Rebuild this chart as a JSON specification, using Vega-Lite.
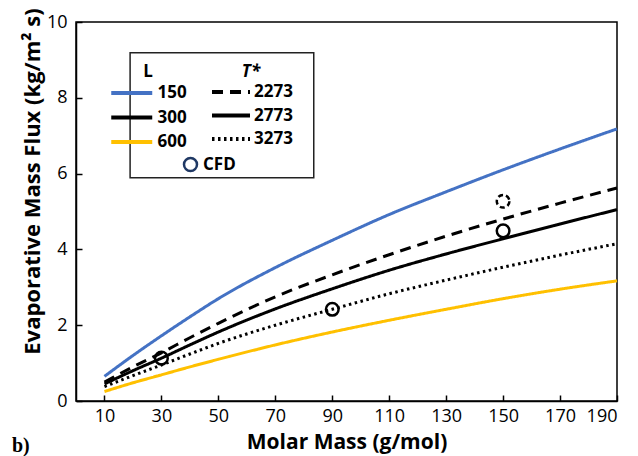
{
  "$schema": "https://vega.github.io/schema/vega-lite/v6.json",
  "width": 541,
  "height": 379,
  "autosize": {"type": "none"},
  "padding": {"left": 76, "top": 22, "right": 21, "bottom": 55},
  "background": "white",
  "config": {
    "font": "Open Sans",
    "view": {"stroke": "#000", "strokeWidth": 1.5},
    "axis": {
      "grid": false, "domainColor": "#000", "domainWidth": 1.5,
      "tickColor": "#000", "tickWidth": 1.5, "tickSize": -6,
      "labelFont": "Open Sans", "labelFontSize": 18, "labelColor": "#000",
      "titleFont": "Open Sans", "titleFontSize": 21, "titleFontWeight": "bold", "titleColor": "#000"
    },
    "legend": {
      "labelFont": "Open Sans", "labelFontSize": 17, "labelFontWeight": "bold", "labelColor": "#000",
      "titleFont": "Open Sans", "titleFontSize": 17, "titleFontWeight": "bold", "titleColor": "#000",
      "padding": 0, "symbolStrokeWidth": 4, "rowPadding": 3.5, "titlePadding": 0, "titleAnchor": "middle"
    }
  },
  "title": {
    "text": "b)", "orient": "bottom", "anchor": "start", "frame": "group",
    "font": "Liberation Serif", "fontSize": 20, "fontWeight": "bold", "color": "#000",
    "dx": -64, "offset": -16
  },
  "datasets": {
    "curves": [
      {"M": 10, "flux": 0.65, "L": "150", "T": "2773"},
      {"M": 20, "flux": 1.2, "L": "150", "T": "2773"},
      {"M": 30, "flux": 1.72, "L": "150", "T": "2773"},
      {"M": 40, "flux": 2.22, "L": "150", "T": "2773"},
      {"M": 50, "flux": 2.7, "L": "150", "T": "2773"},
      {"M": 70, "flux": 3.52, "L": "150", "T": "2773"},
      {"M": 90, "flux": 4.24, "L": "150", "T": "2773"},
      {"M": 110, "flux": 4.92, "L": "150", "T": "2773"},
      {"M": 130, "flux": 5.52, "L": "150", "T": "2773"},
      {"M": 150, "flux": 6.1, "L": "150", "T": "2773"},
      {"M": 170, "flux": 6.65, "L": "150", "T": "2773"},
      {"M": 190, "flux": 7.18, "L": "150", "T": "2773"},
      {"M": 10, "flux": 0.5, "L": "300", "T": "2273"},
      {"M": 20, "flux": 0.9, "L": "300", "T": "2273"},
      {"M": 30, "flux": 1.27, "L": "300", "T": "2273"},
      {"M": 40, "flux": 1.67, "L": "300", "T": "2273"},
      {"M": 50, "flux": 2.05, "L": "300", "T": "2273"},
      {"M": 70, "flux": 2.75, "L": "300", "T": "2273"},
      {"M": 90, "flux": 3.33, "L": "300", "T": "2273"},
      {"M": 110, "flux": 3.86, "L": "300", "T": "2273"},
      {"M": 130, "flux": 4.35, "L": "300", "T": "2273"},
      {"M": 150, "flux": 4.8, "L": "300", "T": "2273"},
      {"M": 170, "flux": 5.22, "L": "300", "T": "2273"},
      {"M": 190, "flux": 5.62, "L": "300", "T": "2273"},
      {"M": 10, "flux": 0.45, "L": "300", "T": "2773"},
      {"M": 20, "flux": 0.8, "L": "300", "T": "2773"},
      {"M": 30, "flux": 1.13, "L": "300", "T": "2773"},
      {"M": 40, "flux": 1.48, "L": "300", "T": "2773"},
      {"M": 50, "flux": 1.82, "L": "300", "T": "2773"},
      {"M": 70, "flux": 2.43, "L": "300", "T": "2773"},
      {"M": 90, "flux": 2.96, "L": "300", "T": "2773"},
      {"M": 110, "flux": 3.45, "L": "300", "T": "2773"},
      {"M": 130, "flux": 3.88, "L": "300", "T": "2773"},
      {"M": 150, "flux": 4.28, "L": "300", "T": "2773"},
      {"M": 170, "flux": 4.67, "L": "300", "T": "2773"},
      {"M": 190, "flux": 5.05, "L": "300", "T": "2773"},
      {"M": 10, "flux": 0.38, "L": "300", "T": "3273"},
      {"M": 20, "flux": 0.67, "L": "300", "T": "3273"},
      {"M": 30, "flux": 0.95, "L": "300", "T": "3273"},
      {"M": 40, "flux": 1.24, "L": "300", "T": "3273"},
      {"M": 50, "flux": 1.52, "L": "300", "T": "3273"},
      {"M": 70, "flux": 2.0, "L": "300", "T": "3273"},
      {"M": 90, "flux": 2.42, "L": "300", "T": "3273"},
      {"M": 110, "flux": 2.83, "L": "300", "T": "3273"},
      {"M": 130, "flux": 3.19, "L": "300", "T": "3273"},
      {"M": 150, "flux": 3.53, "L": "300", "T": "3273"},
      {"M": 170, "flux": 3.85, "L": "300", "T": "3273"},
      {"M": 190, "flux": 4.15, "L": "300", "T": "3273"},
      {"M": 10, "flux": 0.25, "L": "600", "T": "2773"},
      {"M": 20, "flux": 0.48, "L": "600", "T": "2773"},
      {"M": 30, "flux": 0.69, "L": "600", "T": "2773"},
      {"M": 40, "flux": 0.9, "L": "600", "T": "2773"},
      {"M": 50, "flux": 1.1, "L": "600", "T": "2773"},
      {"M": 70, "flux": 1.48, "L": "600", "T": "2773"},
      {"M": 90, "flux": 1.82, "L": "600", "T": "2773"},
      {"M": 110, "flux": 2.13, "L": "600", "T": "2773"},
      {"M": 130, "flux": 2.42, "L": "600", "T": "2773"},
      {"M": 150, "flux": 2.7, "L": "600", "T": "2773"},
      {"M": 170, "flux": 2.95, "L": "600", "T": "2773"},
      {"M": 190, "flux": 3.17, "L": "600", "T": "2773"}
    ],
    "cfd": [
      {"M": 30, "flux": 1.13, "src": "CFD", "outline": "solid"},
      {"M": 90, "flux": 2.42, "src": "CFD", "outline": "solid"},
      {"M": 150, "flux": 4.49, "src": "CFD", "outline": "solid"},
      {"M": 150, "flux": 5.27, "src": "CFD", "outline": "dashed"}
    ]
  },
  "layer": [
    {
      "data": {"values": [{}]},
      "mark": {"type": "rect", "fill": "white", "stroke": "#222", "strokeWidth": 1.5},
      "encoding": {
        "x": {"datum": 19.0, "type": "quantitative", "title": "Molar Mass (g/mol)"},
        "x2": {"datum": 83.5},
        "y": {"datum": 9.19, "type": "quantitative", "title": "Evaporative Mass Flux (kg/m² s)"},
        "y2": {"datum": 5.89}
      }
    },
    {
      "data": {"name": "curves"},
      "mark": {"type": "line", "strokeWidth": 3, "interpolate": "monotone"},
      "encoding": {
        "x": {
          "field": "M", "type": "quantitative",
          "scale": {"domain": [10, 190], "nice": false},
          "title": "Molar Mass (g/mol)",
          "axis": {"values": [10, 30, 50, 70, 90, 110, 130, 150, 170, 190], "labelPadding": 12, "titlePadding": 6}
        },
        "y": {
          "field": "flux", "type": "quantitative",
          "scale": {"domain": [0, 10], "nice": false},
          "title": "Evaporative Mass Flux (kg/m² s)",
          "axis": {"values": [0, 2, 4, 6, 8, 10], "labelPadding": 15, "titleFontSize": 22, "titleAngle": -90, "titleX": -44, "titleY": 159, "titleAlign": "center", "titleBaseline": "middle"}
        },
        "color": {
          "field": "L", "type": "nominal",
          "scale": {"domain": ["150", "300", "600"], "range": ["#4472C4", "#000000", "#FFC000"]},
          "legend": {"title": "L", "orient": "none", "legendX": 33, "legendY": 41.5, "symbolType": "M-1,0H3", "symbolSize": 420, "labelOffset": 23.5}
        },
        "strokeDash": {
          "field": "T", "type": "nominal",
          "scale": {"domain": ["2273", "2773", "3273"], "range": [[11, 7], [1, 0], [2.5, 3.5]]},
          "legend": {"title": "T*", "titleFontStyle": "italic", "orient": "none", "legendX": 134, "legendY": 41.5, "symbolType": "M-1,0H3", "symbolSize": 361, "symbolStrokeColor": "#000", "labelOffset": 21}
        }
      }
    },
    {
      "data": {"name": "cfd"},
      "transform": [{"filter": "datum.outline == 'solid'"}],
      "mark": {"type": "point", "filled": false, "color": "#000", "strokeWidth": 2.5, "size": 160, "opacity": 1},
      "encoding": {
        "x": {"field": "M", "type": "quantitative", "title": "Molar Mass (g/mol)"},
        "y": {"field": "flux", "type": "quantitative", "title": "Evaporative Mass Flux (kg/m² s)"},
        "shape": {
          "field": "src", "type": "nominal",
          "scale": {"domain": ["CFD"], "range": ["circle"]},
          "legend": {"title": null, "orient": "none", "legendX": 106, "legendY": 134, "symbolSize": 169, "symbolStrokeColor": "#1F3864", "symbolStrokeWidth": 2.5, "symbolFillColor": "transparent", "labelOffset": 4}
        }
      }
    },
    {
      "data": {"name": "cfd"},
      "transform": [{"filter": "datum.outline == 'dashed'"}],
      "mark": {"type": "point", "filled": false, "color": "#000", "strokeWidth": 2.5, "size": 160, "opacity": 1, "strokeDash": [5, 3]},
      "encoding": {
        "x": {"field": "M", "type": "quantitative", "title": "Molar Mass (g/mol)"},
        "y": {"field": "flux", "type": "quantitative", "title": "Evaporative Mass Flux (kg/m² s)"}
      }
    }
  ]
}
